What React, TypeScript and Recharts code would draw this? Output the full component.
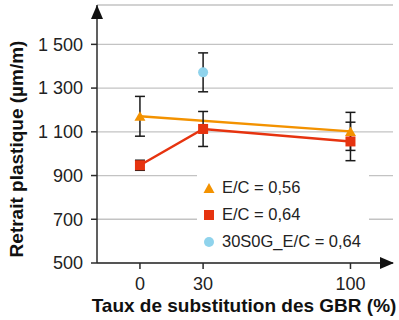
import { ComposedChart, Line, Scatter, XAxis, YAxis, CartesianGrid, ErrorBar } from 'recharts'

// GBR substitution rate (%) and plastic shrinkage (µm/m)
const substitution = [0, 30, 100]
const shrinkage056 = [1171, null, 1102]
const error056 = [91, null, 87]
const shrinkage064 = [947, 1113, 1056]
const error064 = [23, 80, 88]
const s30Substitution = [30]
const s30Shrinkage = [1372]
const s30Error = [89]
const xTicks = [0, 30, 100]
const yTicks = [500, 700, 900, 1100, 1300, 1500]
const seriesNames = ['E/C = 0,56', 'E/C = 0,64', '30S0G_E/C = 0,64']

const ORANGE = '#f39200'
const RED = '#e6330f'
const BLUE = '#8fd3ec'
const AXIS = '#2b2b2b'
const FONT = '"Liberation Sans", Arial, sans-serif'

const W = 399
const H = 320
const PLOT_LEFT = 97
const PLOT_TOP = 5
const PLOT_RIGHT = 393
const PLOT_BOTTOM = 263

const data = substitution.map((x, i) => ({
  x,
  ec056: shrinkage056[i],
  err056: error056[i],
  ec064: shrinkage064[i],
  err064: error064[i],
}))
const s30Data = s30Substitution.map((x, i) => ({ x, y: s30Shrinkage[i], err: s30Error[i] }))

const fmtY = (v: number) => (v >= 1000 ? `${Math.floor(v / 1000)} ${String(v % 1000).padStart(3, '0')}` : String(v))

const TriangleDot = (p: any) =>
  p.cx == null || p.cy == null || p.value == null ? (
    <g key={p.key} />
  ) : (
    <polygon key={p.key} points={`${p.cx},${p.cy - 5} ${p.cx - 5.5},${p.cy + 4.5} ${p.cx + 5.5},${p.cy + 4.5}`} fill={ORANGE} />
  )

const SquareDot = (p: any) =>
  p.cx == null || p.cy == null ? <g key={p.key} /> : <rect key={p.key} x={p.cx - 5} y={p.cy - 5} width={10} height={10} fill={RED} />

const CircleDot = (p: any) => <circle cx={p.cx} cy={p.cy} r={5} fill={BLUE} />

const legendIcons = [
  <polygon points="6,1 0.5,11 11.5,11" fill={ORANGE} />,
  <rect x={1} y={1} width={10} height={10} fill={RED} />,
  <circle cx={6} cy={6} r={5} fill={BLUE} />,
]

const YTitle = () => (
  <text
    transform={`translate(23, 149) rotate(-90)`}
    textAnchor="middle"
    fontFamily={FONT}
    fontWeight="bold"
    fontSize={19}
    fill="#111"
  >
    Retrait plastique (µm/m)
  </text>
)

const XTitle = () => (
  <text x={244} y={312} textAnchor="middle" fontFamily={FONT} fontWeight="bold" fontSize={19} fill="#111">
    Taux de substitution des GBR (%)
  </text>
)

export default function App() {
  return (
    <div style={{ position: 'absolute', left: 0, top: 0, width: W, height: H, background: '#fff' }}>
      <ComposedChart
        width={W}
        height={H}
        data={data}
        margin={{ top: PLOT_TOP, right: W - PLOT_RIGHT, bottom: 0, left: 0 }}
      >
        <CartesianGrid vertical={false} stroke="#c3c3c3" strokeWidth={1.3} />
        <XAxis
          dataKey="x"
          type="number"
          domain={[-20.4, 120.2]}
          allowDataOverflow
          ticks={xTicks}
          height={H - PLOT_BOTTOM}
          tickSize={6}
          tickMargin={8}
          stroke={AXIS}
          strokeWidth={1.5}
          tick={{ fontSize: 18, fill: '#222', fontFamily: FONT }}
          label={{ content: XTitle }}
        />
        <YAxis
          type="number"
          domain={[500, 1680]}
          allowDataOverflow
          ticks={yTicks}
          width={PLOT_LEFT}
          tickSize={6}
          tickMargin={8}
          tickFormatter={fmtY}
          stroke={AXIS}
          strokeWidth={1.5}
          tick={{ fontSize: 18, fill: '#222', fontFamily: FONT }}
          label={{ content: YTitle }}
        />
        <Line
          dataKey="ec056"
          stroke={ORANGE}
          strokeWidth={2.5}
          connectNulls
          dot={TriangleDot}
          activeDot={false}
          isAnimationActive={false}
        >
          <ErrorBar dataKey="err056" direction="y" width={5} stroke="#1a1a1a" strokeWidth={1.5} />
        </Line>
        <Line
          dataKey="ec064"
          stroke={RED}
          strokeWidth={2.5}
          dot={SquareDot}
          activeDot={false}
          isAnimationActive={false}
        >
          <ErrorBar dataKey="err064" direction="y" width={5} stroke="#1a1a1a" strokeWidth={1.5} />
        </Line>
        <Scatter data={s30Data} dataKey="y" shape={CircleDot} isAnimationActive={false}>
          <ErrorBar dataKey="err" direction="y" width={5} stroke="#1a1a1a" strokeWidth={1.5} />
        </Scatter>
      </ComposedChart>

      {/* axis arrowheads */}
      <svg width={W} height={H} style={{ position: 'absolute', left: 0, top: 0, pointerEvents: 'none' }}>
        <polygon points={`${PLOT_LEFT},${PLOT_TOP} ${PLOT_LEFT - 6},${PLOT_TOP + 14} ${PLOT_LEFT + 6},${PLOT_TOP + 14}`} fill="#111" />
        <polygon points={`${PLOT_RIGHT + 1},${PLOT_BOTTOM} ${PLOT_RIGHT - 13},${PLOT_BOTTOM - 6} ${PLOT_RIGHT - 13},${PLOT_BOTTOM + 6}`} fill="#111" />
      </svg>

      <div
        style={{
          position: 'absolute',
          left: 197,
          top: 174,
          width: 172,
          height: 80,
          background: '#fff',
          fontFamily: FONT,
          fontSize: 16.5,
          color: '#222',
        }}
      >
        {seriesNames.map((name, i) => (
          <div key={name} style={{ height: 27, lineHeight: '27px', display: 'flex', alignItems: 'center' }}>
            <svg width={12} height={12} style={{ marginLeft: 6, marginRight: 7 }}>
              {legendIcons[i]}
            </svg>
            <span>{name}</span>
          </div>
        ))}
      </div>
    </div>
  )
}
